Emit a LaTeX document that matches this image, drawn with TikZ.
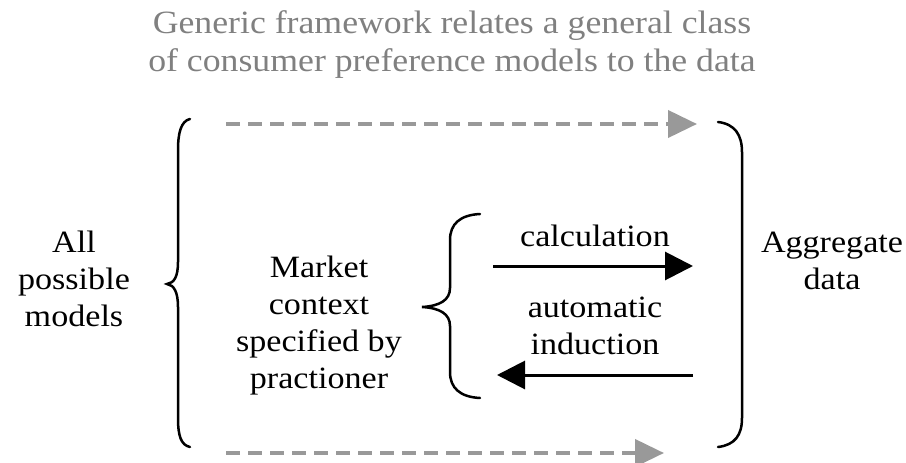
\documentclass[tikz,border=0pt]{standalone}
\usepackage{fontspec}
\setmainfont[FakeStretch=1.1]{Liberation Serif}
\usepackage{tikz}
\usetikzlibrary{arrows.meta, positioning}

\definecolor{titleGray}{HTML}{808080}
\definecolor{dashGray}{HTML}{999999}

\begin{document}
\begin{tikzpicture}[x=1pt, y=-1pt, >=Stealth]
      \tikzstyle{textNode} = [align=center, inner sep=0pt, font=\fontsize{31}{37}\selectfont]
      \tikzstyle{titleNode} = [textNode, text=titleGray, font=\fontsize{32.5}{38}\selectfont]
      \tikzstyle{braceLine} = [draw=black, line width=2.5pt, line cap=round]
      \tikzstyle{solidArrow} = [draw=black, line width=3pt, -{Triangle[length=28pt, width=28pt]}]
      \tikzstyle{dashArrow} = [draw=dashGray, line width=4pt, dash pattern=on 14pt off 8pt, -{Triangle[length=29pt, width=27pt]}]

      \useasboundingbox (0,0) rectangle (906,463);

      % Definición de nodos
      \node at (452,45) [titleNode] (title) {Generic framework relates a general class\\of consumer preference models to the data};
      \node at (74,279) [textNode] (models) {All\\possible\\models};
      \node at (319,326) [textNode] (market) {Market\\context\\specified by\\practioner};
      \node at (595,236) [textNode] (calc) {calculation};
      \node at (595,326) [textNode] (induct) {automatic\\induction};
      \node at (832,261) [textNode] (data) {Aggregate\\data};

      \coordinate (topStart) at (226,124);
      \coordinate (topEnd) at (697,124);
      \coordinate (botStart) at (226,453);
      \coordinate (botEnd) at (664,453);
      \coordinate (calcStart) at (493,266);
      \coordinate (calcEnd) at (693,266);
      \coordinate (inductStart) at (693,375);
      \coordinate (inductEnd) at (497,375);

      % llaves
      \draw [braceLine] (190,119) .. controls (181,121) and (178,133) .. (178,150) -- (178,262)
            .. controls (178,277) and (174,283) .. (167,284) .. controls (174,285) and (178,292) .. (178,307)
            -- (178,418) .. controls (178,436) and (181,445) .. (190,447);
      \draw [braceLine] (718,122) .. controls (735,124) and (742,135) .. (742,152) -- (742,418)
            .. controls (742,435) and (735,445) .. (718,447);
      \draw [braceLine] (480,214) .. controls (460,215) and (450,224) .. (450,240) -- (450,288)
            .. controls (450,300) and (440,306) .. (422,307) .. controls (440,308) and (450,314) .. (450,326)
            -- (450,372) .. controls (450,388) and (460,397) .. (480,398);

      \draw [dashArrow] (topStart) -- (topEnd);
      \draw [dashArrow] (botStart) -- (botEnd);
      \draw [solidArrow] (calcStart) -- (calcEnd);
      \draw [solidArrow] (inductStart) -- (inductEnd);

    \end{tikzpicture}
\end{document}
